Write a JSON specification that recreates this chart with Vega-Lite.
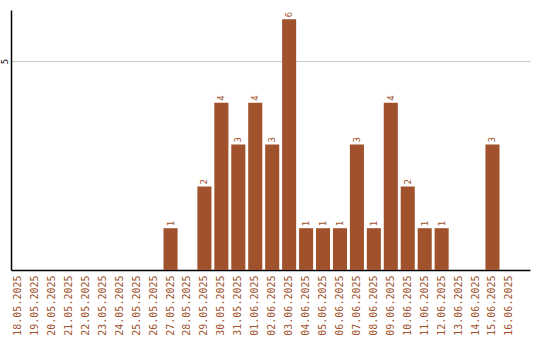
{
  "$schema": "https://vega.github.io/schema/vega-lite/v6.json",
  "autosize": {"type": "none"},
  "padding": {"left": 11, "top": 10, "right": 10, "bottom": 70},
  "width": 519,
  "height": 260,
  "background": "white",
  "config": {"view": {"stroke": null}},
  "data": {"values": [
    {"date": "18.05.2025", "count": 0},
    {"date": "19.05.2025", "count": 0},
    {"date": "20.05.2025", "count": 0},
    {"date": "21.05.2025", "count": 0},
    {"date": "22.05.2025", "count": 0},
    {"date": "23.05.2025", "count": 0},
    {"date": "24.05.2025", "count": 0},
    {"date": "25.05.2025", "count": 0},
    {"date": "26.05.2025", "count": 0},
    {"date": "27.05.2025", "count": 1},
    {"date": "28.05.2025", "count": 0},
    {"date": "29.05.2025", "count": 2},
    {"date": "30.05.2025", "count": 4},
    {"date": "31.05.2025", "count": 3},
    {"date": "01.06.2025", "count": 4},
    {"date": "02.06.2025", "count": 3},
    {"date": "03.06.2025", "count": 6},
    {"date": "04.06.2025", "count": 1},
    {"date": "05.06.2025", "count": 1},
    {"date": "06.06.2025", "count": 1},
    {"date": "07.06.2025", "count": 3},
    {"date": "08.06.2025", "count": 1},
    {"date": "09.06.2025", "count": 4},
    {"date": "10.06.2025", "count": 2},
    {"date": "11.06.2025", "count": 1},
    {"date": "12.06.2025", "count": 1},
    {"date": "13.06.2025", "count": 0},
    {"date": "14.06.2025", "count": 0},
    {"date": "15.06.2025", "count": 3},
    {"date": "16.06.2025", "count": 0}
  ]},
  "encoding": {
    "x": {
      "field": "date", "type": "nominal", "sort": null,
      "scale": {"paddingInner": 0.17, "paddingOuter": 0.4, "align": 0},
      "axis": {
        "title": null, "labelAngle": -90, "labelAlign": "right", "labelBaseline": "middle",
        "labelFont": "DejaVu Sans Mono", "labelFontSize": 10, "labelColor": "#A0522D",
        "labelPadding": 5, "ticks": false, "domainColor": "#000000", "domainWidth": 1.5,
        "labelOverlap": false, "grid": false
      }
    },
    "y": {
      "field": "count", "type": "quantitative",
      "scale": {"domain": [0, 6.22], "nice": false, "zero": true},
      "axis": {
        "title": null, "values": [5], "labelAngle": -90, "labelAlign": "center", "labelBaseline": "bottom",
        "labelFont": "DejaVu Sans Mono", "labelFontSize": 9, "labelColor": "#000000",
        "labelPadding": 2, "ticks": false, "domainColor": "#000000", "domainWidth": 1.5,
        "grid": true, "gridColor": "#c8c8c8", "gridWidth": 1
      }
    }
  },
  "layer": [
    {"mark": {"type": "bar", "color": "#A0522D"}},
    {
      "transform": [{"filter": "datum.count > 0"}],
      "mark": {"type": "text", "angle": -90, "align": "left", "baseline": "middle", "dx": 2,
               "font": "DejaVu Sans Mono", "fontSize": 9, "color": "#A0522D"},
      "encoding": {"text": {"field": "count", "type": "quantitative"}}
    }
  ]
}
